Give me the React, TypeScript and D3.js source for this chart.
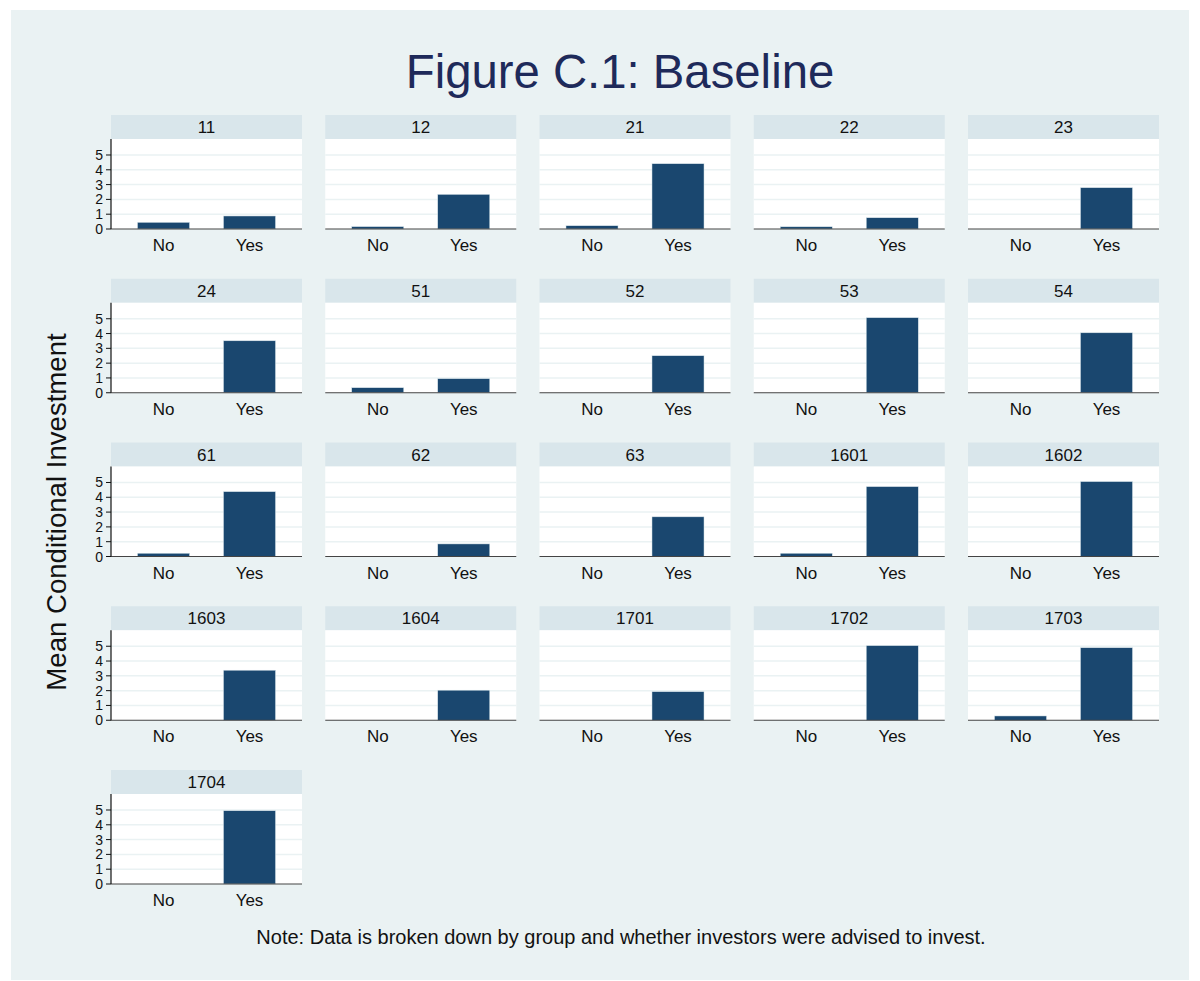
import React, { useEffect } from "react";
import * as d3 from "d3";

const groups = ["11","12","21","22","23","24","51","52","53","54","61","62","63","1601","1602","1603","1604","1701","1702","1703","1704"];
const noValues = [0.45,0.16,0.22,0.15,0,0,0.34,0,0,0,0.22,0,0,0.22,0,0,0,0,0,0.29,0];
const yesValues = [0.88,2.34,4.41,0.76,2.79,3.51,0.95,2.5,5.07,4.05,4.38,0.85,2.68,4.72,5.06,3.38,2.03,1.93,5.04,4.9,4.95];
const categories = ["No","Yes"];
const yTicks = [0,1,2,3,4,5];

const W = 1200, H = 981;
const FONT = "'Liberation Sans', Arial, Helvetica, sans-serif";
const BG = "#eaf2f3";
const STRIP = "#d9e6eb";
const BAR = "#1a476f";
const NCOL = 5;
const colX0 = 111, colStep = 214.25, panelW = 191;
const rowY0 = 115, rowStep = 163.75, stripH = 24, plotH = 90;

export default function App() {
  useEffect(() => {
    document.body.style.margin = "0";
  }, []);

  const x = d3.scaleBand<string>().domain(categories).range([0, panelW]).paddingInner(0.395).paddingOuter(0.308);
  const y = d3.scaleLinear().domain([0, 6.08]).range([plotH, 0]);

  return (
    <svg width={W} height={H} style={{ display: "block" }} fontFamily={FONT}>
      <rect x={0} y={0} width={W} height={H} fill="#ffffff" />
      <rect x={11} y={10} width={1178} height={970} fill={BG} />
      <text x={620} y={88} textAnchor="middle" fontSize={47.3} fill="#1e2a5a">Figure C.1: Baseline</text>
      <text transform="translate(66,512) rotate(-90)" textAnchor="middle" fontSize={27.6} fill="#111">Mean Conditional Investment</text>
      {groups.map((g, i) => {
        const c = i % NCOL, r = Math.floor(i / NCOL);
        const px = colX0 + c * colStep;
        const sy = rowY0 + r * rowStep;
        const py = sy + stripH;
        const vals = [noValues[i], yesValues[i]];
        return (
          <g key={g}>
            <rect x={px} y={sy} width={panelW} height={stripH} fill={STRIP} />
            <text x={px + panelW / 2} y={sy + stripH / 2 + 6} textAnchor="middle" fontSize={17} fill="#111">{g}</text>
            <g transform={`translate(${px},${py})`}>
              <rect x={0} y={0} width={panelW} height={plotH} fill="#ffffff" />
              {yTicks.filter(t => t > 0).map(t => (
                <line key={t} x1={0} x2={panelW} y1={y(t)} y2={y(t)} stroke={BG} strokeWidth={1.5} />
              ))}
              {categories.map((cat, k) => (
                vals[k] > 0 ? (
                  <rect key={cat} x={x(cat)} y={y(vals[k])} width={x.bandwidth()} height={plotH - y(vals[k])} fill={BAR} stroke="#d9e6eb" strokeWidth={0.5} />
                ) : null
              ))}
              <line x1={0} x2={panelW} y1={plotH} y2={plotH} stroke="#444" strokeWidth={1.2} />
              {categories.map(cat => (
                <text key={cat} x={(x(cat) as number) + x.bandwidth() / 2} y={plotH + 22} textAnchor="middle" fontSize={17} fill="#111">{cat}</text>
              ))}
              {c === 0 && (
                <g>
                  <line x1={0} x2={0} y1={0} y2={plotH} stroke="#111" strokeWidth={1.2} />
                  {yTicks.map(t => (
                    <g key={t}>
                      <line x1={-5} x2={0} y1={y(t)} y2={y(t)} stroke="#111" strokeWidth={1} />
                      <text x={-8} y={y(t) + 5} textAnchor="end" fontSize={14} fill="#111">{t}</text>
                    </g>
                  ))}
                </g>
              )}
            </g>
          </g>
        );
      })}
      <text x={621} y={944} textAnchor="middle" fontSize={20} fill="#111">Note: Data is broken down by group and whether investors were advised to invest.</text>
    </svg>
  );
}
